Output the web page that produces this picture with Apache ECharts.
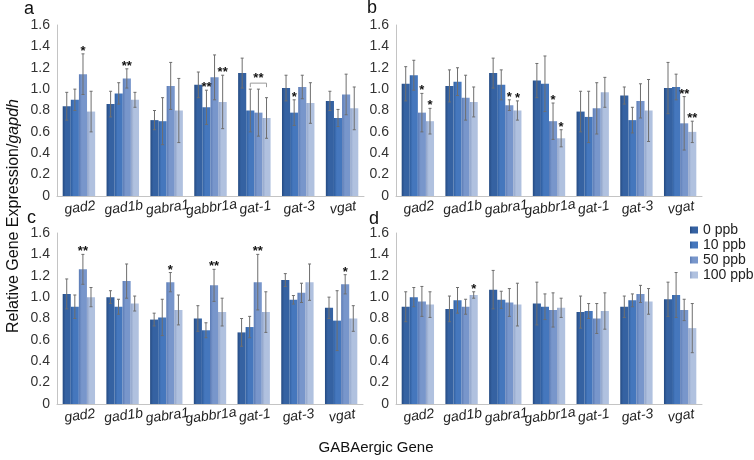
<!DOCTYPE html>
<html><head><meta charset="utf-8">
<script src="https://cdn.jsdelivr.net/npm/echarts@6/dist/echarts.min.js"></script>
<style>html,body{margin:0;padding:0;background:#fff}#c{width:754px;height:460px}</style>
</head><body><div id="c"></div>
<script>
const categories = ['gad2','gad1b','gabra1','gabbr1a','gat-1','gat-3','vgat'];
const seriesNames = ['0 ppb','10 ppb','50 ppb','100 ppb'];
const panelLabels = ['a','b','c','d'];

// Panel a
const a_0 = [0.84,0.86,0.71,1.04,1.15,1.01,0.89];   const a_0err = [0.13,0.12,0.09,0.12,0.14,0.12,0.09];
const a_10 = [0.90,0.96,0.70,0.83,0.80,0.78,0.73];  const a_10err = [0.10,0.10,0.22,0.16,0.20,0.12,0.08];
const a_50 = [1.14,1.10,1.03,1.11,0.78,1.02,0.95];  const a_50err = [0.19,0.09,0.22,0.21,0.22,0.11,0.19];
const a_100 = [0.79,0.90,0.80,0.88,0.73,0.87,0.82]; const a_100err = [0.19,0.07,0.30,0.25,0.19,0.19,0.20];
// Panel b
const b_0 = [1.05,1.03,1.15,1.08,0.79,0.94,1.01];   const b_0err = [0.16,0.15,0.14,0.16,0.19,0.08,0.24];
const b_10 = [1.13,1.07,1.04,1.05,0.74,0.71,1.02];  const b_10err = [0.14,0.13,0.14,0.26,0.24,0.12,0.12];
const b_50 = [0.78,0.92,0.85,0.70,0.82,0.89,0.68];  const b_50err = [0.18,0.21,0.05,0.17,0.24,0.16,0.25];
const b_100 = [0.70,0.88,0.80,0.54,0.97,0.80,0.60]; const b_100err = [0.12,0.14,0.09,0.08,0.14,0.29,0.10];
// Panel c
const c_0 = [1.03,1.00,0.79,0.80,0.67,1.16,0.90];   const c_0err = [0.14,0.06,0.06,0.12,0.13,0.06,0.10];
const c_10 = [0.91,0.91,0.81,0.69,0.72,0.975,0.78]; const c_10err = [0.11,0.07,0.17,0.07,0.10,0.04,0.28];
const c_50 = [1.26,1.15,1.14,1.11,1.14,1.04,1.12];  const c_50err = [0.14,0.16,0.09,0.15,0.26,0.09,0.09];
const c_100 = [1.00,0.94,0.88,0.86,0.86,1.14,0.80]; const c_100err = [0.09,0.07,0.14,0.13,0.19,0.17,0.12];
// Panel d
const d_0 = [0.91,0.89,1.07,0.94,0.86,0.91,0.98];   const d_0err = [0.14,0.12,0.18,0.20,0.15,0.10,0.16];
const d_10 = [1.00,0.97,0.975,0.91,0.87,0.97,1.02]; const d_10err = [0.09,0.12,0.08,0.12,0.07,0.06,0.21];
const d_50 = [0.96,0.91,0.95,0.88,0.80,1.03,0.88];  const d_50err = [0.14,0.07,0.13,0.16,0.14,0.08,0.10];
const d_100 = [0.93,1.02,0.93,0.90,0.87,0.96,0.71]; const d_100err = [0.12,0.03,0.20,0.09,0.17,0.12,0.23];

// significance marks: [category, series index, mark]
const starsA = [['gad2',2,'*'],['gad1b',2,'**'],['gabbr1a',1,'**'],['gabbr1a',3,'**'],['gat-3',1,'*']];
const bracketsA = [['gat-1',1,3,'**']];
const starsB = [['gad2',2,'*'],['gad2',3,'*'],['gabra1',2,'*'],['gabra1',3,'*'],['gabbr1a',2,'*'],['gabbr1a',3,'*'],['vgat',2,'**'],['vgat',3,'**']];
const starsC = [['gad2',2,'**'],['gabra1',2,'*'],['gabbr1a',2,'**'],['gat-1',2,'**'],['vgat',2,'*']];
const starsD = [['gad1b',3,'*']];

const panels = [
  {means:[a_0,a_10,a_50,a_100], errs:[a_0err,a_10err,a_50err,a_100err], stars:starsA, brackets:bracketsA},
  {means:[b_0,b_10,b_50,b_100], errs:[b_0err,b_10err,b_50err,b_100err], stars:starsB, brackets:[]},
  {means:[c_0,c_10,c_50,c_100], errs:[c_0err,c_10err,c_50err,c_100err], stars:starsC, brackets:[]},
  {means:[d_0,d_10,d_50,d_100], errs:[d_0err,d_10err,d_50err,d_100err], stars:starsD, brackets:[]}
];

const gridPos = [
  {left:57, top:25, width:307, height:171},
  {left:396, top:25, width:306, height:171},
  {left:57, top:233, width:306, height:171},
  {left:396, top:233, width:306, height:171}
];
const labelPos = [[29,10],[372,9],[32,219],[374,220]];

const baseColors = [['#244a82','#3562a2'],['#2f5e9f','#4577bd'],['#5b7bb5','#7896cb'],['#8fa3c9','#b0c1df']];
const FONT = '"Liberation Sans", Arial, sans-serif';
const GAP = 0.26;

function barColor(i){
  return new echarts.graphic.LinearGradient(0,0,1,0,[
    {offset:0,color:baseColors[i][0]},{offset:0.35,color:baseColors[i][1]},{offset:1,color:baseColors[i][1]}]);
}

const grids=[], xAxes=[], yAxes=[], series=[];
panels.forEach((p,pi)=>{
  grids.push(Object.assign({containLabel:false}, gridPos[pi]));
  xAxes.push({type:'category', gridIndex:pi, data:categories,
    axisLine:{lineStyle:{color:'#c4c4c4'}}, axisTick:{show:false},
    axisLabel:{interval:0, rotate:8, align:'center', verticalAlign:'top', margin:5,
      fontStyle:'italic', fontSize:14, color:'#222', fontFamily:FONT}});
  yAxes.push({type:'value', gridIndex:pi, min:0, max:1.6, interval:0.2,
    splitLine:{show:false}, axisTick:{show:false},
    axisLine:{show:true, lineStyle:{color:'#c4c4c4'}},
    axisLabel:{fontSize:14, color:'#333', margin:7, fontFamily:FONT,
      formatter:v=> v===0 ? '0' : v.toFixed(1)}});
  p.means.forEach((m,si)=>{
    series.push({type:'bar', name:seriesNames[si], xAxisIndex:pi, yAxisIndex:pi, data:m,
      barGap:'0%', barCategoryGap:(GAP*100)+'%', itemStyle:{color:barColor(si)},
      emphasis:{disabled:true}});
  });
  // error bars
  const eb=[];
  p.means.forEach((m,si)=>m.forEach((v,ci)=>eb.push([ci,si,v,p.errs[si][ci]])));
  series.push({type:'custom', xAxisIndex:pi, yAxisIndex:pi, data:eb, z:5, silent:true,
    renderItem:(params,api)=>{
      const ci=api.value(0), si=api.value(1), v=api.value(2), e=api.value(3);
      const band=api.size([1,0])[0], bw=band*(1-GAP)/4;
      const x=api.coord([ci,v])[0]+(si-1.5)*bw;
      const yt=api.coord([ci,v+e])[1], yb=api.coord([ci,v-e])[1];
      const st={stroke:'#6e6e6e', lineWidth:1};
      return {type:'group', children:[
        {type:'line', shape:{x1:x,y1:yt,x2:x,y2:yb}, style:st},
        {type:'line', shape:{x1:x-1.5,y1:yt,x2:x+1.5,y2:yt}, style:st},
        {type:'line', shape:{x1:x-1.5,y1:yb,x2:x+1.5,y2:yb}, style:st}]};
    }});
  // stars
  const sd=p.stars.map(s=>{const ci=categories.indexOf(s[0]);return [ci,s[1],p.means[s[1]][ci]+p.errs[s[1]][ci]];});
  series.push({type:'custom', xAxisIndex:pi, yAxisIndex:pi, data:sd, z:6, silent:true,
    renderItem:(params,api)=>{
      const ci=api.value(0), si=api.value(1), top=api.value(2);
      const band=api.size([1,0])[0], bw=band*(1-GAP)/4;
      const pt=api.coord([ci,top]);
      const x=pt[0]+(si-1.5)*bw;
      return {type:'text', style:{text:p.stars[params.dataIndex][2], x:x, y:pt[1]-9,
        align:'center', verticalAlign:'top', font:'bold 13px '+FONT, fill:'#111'}};
    }});
  if(p.brackets.length){
    const bd=p.brackets.map(b=>{const ci=categories.indexOf(b[0]);
      let mx=0; for(let s=b[1];s<=b[2];s++){mx=Math.max(mx,p.means[s][ci]+p.errs[s][ci]);}
      return [ci,b[1],b[2],mx];});
    series.push({type:'custom', xAxisIndex:pi, yAxisIndex:pi, data:bd, z:6, silent:true,
      renderItem:(params,api)=>{
        const ci=api.value(0), s1=api.value(1), s2=api.value(2), top=api.value(3);
        const band=api.size([1,0])[0], bw=band*(1-GAP)/4;
        const pt=api.coord([ci,top]);
        const x1=pt[0]+(s1-1.5)*bw, x2=pt[0]+(s2-1.5)*bw, y=pt[1]-6;
        const st={stroke:'#9a9a9a', lineWidth:1};
        return {type:'group', children:[
          {type:'polyline', shape:{points:[[x1,y+4],[x1,y],[x2,y],[x2,y+4]]}, style:Object.assign({fill:null},st)},
          {type:'text', style:{text:p.brackets[params.dataIndex][3], x:(x1+x2)/2, y:y-11,
            align:'center', verticalAlign:'top', font:'bold 13px '+FONT, fill:'#111'}}]};
      }});
  }
});

const graphics = panelLabels.map((t,i)=>({type:'text', left:labelPos[i][0]-5, top:labelPos[i][1]-10,
  style:{text:t, font:'18px '+FONT, fill:'#111'}}));
graphics.push({type:'text', x:14, y:216, rotation:Math.PI/2,
  style:{text:'{n|Relative Gene Expression/}{i|gapdh}', align:'center', verticalAlign:'middle',
    rich:{n:{fontSize:16, fontFamily:FONT, fill:'#111'}, i:{fontSize:16, fontFamily:FONT, fontStyle:'italic', fill:'#111'}}}});
graphics.push({type:'text', x:376, y:448, style:{text:'GABAergic Gene', align:'center', verticalAlign:'middle',
  font:'15px '+FONT, fill:'#111'}});

const chart = echarts.init(document.getElementById('c'), null, {renderer:'canvas'});
chart.setOption({
  animation:false,
  textStyle:{fontFamily:FONT},
  grid:grids, xAxis:xAxes, yAxis:yAxes, series:series,
  legend:{data:seriesNames, orient:'vertical', left:690, top:223, itemWidth:8, itemHeight:7, itemGap:1,
    padding:0, textStyle:{fontSize:14, lineHeight:14, color:'#222', fontFamily:FONT}, icon:'rect'},
  graphic:graphics
});
</script></body></html>
